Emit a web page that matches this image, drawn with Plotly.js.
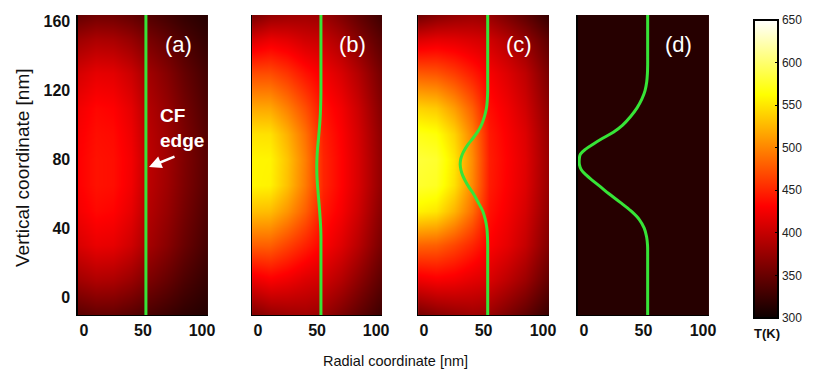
<!DOCTYPE html>
<html>
<head>
<meta charset="utf-8">
<script src="https://cdn.plot.ly/plotly-3.0.1.min.js"></script>
<style>html,body{margin:0;padding:0;background:#fff;}#chart{width:813px;height:373px;}</style>
</head>
<body>
<div id="chart"></div>
<script>
// Grid of sample positions (nm)
var gridX = [-5, 10, 25, 40, 55, 70, 85, 105];
var gridY = [-11, 10, 30, 50, 65, 80, 95, 110, 130, 150, 165];

// Temperature fields T(K), rows follow gridY, columns follow gridX
var tempA = [
  [340, 346, 346, 340, 332, 325, 318, 312],
  [380, 388, 386, 376, 360, 348, 335, 321],
  [410, 420, 418, 405, 382, 367, 350, 330],
  [425, 435, 432, 418, 390, 375, 357, 335],
  [430, 440, 438, 424, 394, 379, 361, 339],
  [430, 440, 438, 425, 395, 380, 362, 340],
  [428, 438, 436, 422, 393, 378, 360, 338],
  [424, 434, 431, 417, 389, 374, 356, 334],
  [408, 418, 416, 403, 380, 365, 348, 329],
  [378, 386, 384, 374, 358, 346, 334, 320],
  [345, 352, 351, 345, 336, 328, 320, 313]
];
var tempB = [
  [360, 372, 377, 380, 375, 360, 345, 325],
  [420, 428, 422, 412, 405, 390, 370, 342],
  [480, 480, 465, 448, 430, 414, 393, 357],
  [530, 528, 508, 480, 443, 427, 405, 365],
  [558, 556, 530, 494, 450, 432, 410, 370],
  [558, 557, 532, 496, 450, 432, 410, 370],
  [548, 547, 522, 489, 447, 430, 408, 368],
  [518, 517, 497, 471, 440, 425, 403, 363],
  [470, 470, 458, 440, 425, 410, 390, 355],
  [410, 420, 415, 405, 400, 385, 365, 340],
  [355, 370, 375, 378, 375, 360, 345, 325]
];
var tempC = [
  [355, 365, 372, 378, 375, 360, 345, 322],
  [422, 427, 424, 416, 410, 395, 378, 345],
  [482, 480, 467, 450, 430, 418, 400, 362],
  [556, 550, 524, 488, 440, 426, 409, 370],
  [578, 574, 547, 501, 445, 430, 414, 374],
  [582, 578, 550, 503, 446, 431, 415, 375],
  [570, 565, 540, 498, 444, 429, 413, 373],
  [540, 535, 512, 480, 438, 424, 406, 368],
  [477, 474, 462, 445, 427, 413, 396, 358],
  [412, 417, 415, 410, 405, 390, 372, 342],
  [350, 362, 370, 375, 372, 357, 342, 320]
];
var tempD = [
  [314, 314, 314, 314, 314, 314, 314, 314],
  [314, 314, 314, 314, 314, 314, 314, 314],
  [314, 314, 314, 314, 314, 314, 314, 314],
  [314, 314, 314, 314, 314, 314, 314, 314],
  [314, 314, 314, 314, 314, 314, 314, 314],
  [314, 314, 314, 314, 314, 314, 314, 314],
  [314, 314, 314, 314, 314, 314, 314, 314],
  [314, 314, 314, 314, 314, 314, 314, 314],
  [314, 314, 314, 314, 314, 314, 314, 314],
  [314, 314, 314, 314, 314, 314, 314, 314],
  [314, 314, 314, 314, 314, 314, 314, 314]
];

// CF edge profiles (radial position vs vertical coordinate)
var edgeY  = [-11, 0, 10, 20, 25, 30, 35, 40, 45, 50, 55, 60, 64, 68, 71, 74, 77, 80, 83, 86, 89, 92, 96, 100, 105, 110, 115, 120, 125, 130, 135, 140, 150, 160, 165];
var edgeXA = [52.5,52.5,52.5,52.5,52.5,52.5,52.5,52.5,52.5,52.5,52.5,52.5,52.5,52.5,52.5,52.5,52.5,52.5,52.5,52.5,52.5,52.5,52.5,52.5,52.5,52.5,52.5,52.5,52.5,52.5,52.5,52.5,52.5,52.5,52.5];
var edgeXB = [53.3,53.3,53.3,53.3,53.3,53.3,53.3,53.1,52.7,52.2,51.6,51.0,50.5,50.1,49.9,49.8,49.8,49.9,50.1,50.4,50.8,51.2,51.7,52.2,52.7,53.0,53.2,53.3,53.3,53.3,53.3,53.3,53.3,53.3,53.3];
var edgeXC = [53.5,53.5,53.5,53.5,53.5,53.5,53.3,52.8,51.5,49.3,45.5,41.5,37.6,34.3,32.3,31.0,30.4,30.8,32.2,34.5,37.3,40.8,45.0,48.2,50.8,52.5,53.2,53.5,53.5,53.5,53.5,53.5,53.5,53.5,53.5];
var edgeXD = [53.5,53.5,53.5,53.5,53.5,53.4,52.6,50.6,46.5,39.5,30.5,21.0,14.0,6.8,1.8,-2.2,-3.8,-3.9,-3.0,1.5,8.0,15.0,25.0,32.5,39.2,44.6,48.6,51.3,52.7,53.3,53.5,53.5,53.5,53.5,53.5];

var xTicks = [0, 50, 100];
var yTicks = [0, 40, 80, 120, 160];
var cbTicks = [300, 350, 400, 450, 500, 550, 600, 650];
var panelLabels = ['(a)', '(b)', '(c)', '(d)'];

var fields = [tempA, tempB, tempC, tempD];
var edges = [edgeXA, edgeXB, edgeXC, edgeXD];
var axSuffix = ['', '2', '3', '4'];
var domainsX = [[0.0959, 0.2558], [0.3100, 0.4699], [0.5142, 0.6753], [0.7109, 0.8721]];
var domainY = [0.1555, 0.9598];

var FONT = 'Liberation Sans, Arial, sans-serif';
var data = [];
for (var i = 0; i < 4; i++) {
  data.push({
    type: 'heatmap', x: gridX, y: gridY, z: fields[i],
    coloraxis: 'coloraxis', zsmooth: 'best',
    xaxis: 'x' + axSuffix[i], yaxis: 'y' + axSuffix[i], hoverinfo: 'skip'
  });
  data.push({
    type: 'scatter', mode: 'lines', x: edges[i], y: edgeY,
    line: {color: 'rgb(55,228,55)', width: 3, shape: 'spline', smoothing: 1},
    xaxis: 'x' + axSuffix[i], yaxis: 'y' + axSuffix[i], showlegend: false, hoverinfo: 'skip'
  });
}

var layout = {
  width: 813, height: 373,
  margin: {l: 0, r: 0, t: 0, b: 0},
  paper_bgcolor: '#fff', plot_bgcolor: '#fff',
  showlegend: false,
  font: {family: FONT, color: '#000'},
  coloraxis: {
    cmin: 300, cmax: 650,
    colorscale: [[0, 'rgb(12,0,0)'], [0.375, 'rgb(255,0,0)'], [0.75, 'rgb(255,255,0)'], [1, 'rgb(255,255,255)']],
    colorbar: {
      x: 754 / 813, xanchor: 'left', xpad: 0, ypad: 0,
      y: 1 - 169 / 373, yanchor: 'middle',
      len: 298 / 373, lenmode: 'fraction',
      thickness: 24, thicknessmode: 'pixels',
      outlinecolor: '#000', outlinewidth: 2,
      tickvals: cbTicks, ticks: 'inside', ticklen: 4, tickcolor: '#000', tickwidth: 1,
      tickfont: {family: FONT, size: 12, color: '#222'}
    }
  },
  annotations: []
};

for (var j = 0; j < 4; j++) {
  var xa = 'xaxis' + axSuffix[j], ya = 'yaxis' + axSuffix[j];
  layout[xa] = {
    domain: domainsX[j], anchor: 'y' + axSuffix[j], range: [-5, 105],
    tickvals: xTicks, ticks: '',
    showline: true, linecolor: '#000', linewidth: 1.5, mirror: false,
    showgrid: false, zeroline: false,
    tickfont: {family: FONT, size: 16, weight: 'bold', color: '#111'}
  };
  layout[ya] = {
    domain: domainY, anchor: 'x' + axSuffix[j], range: [-10.5, 164],
    tickvals: yTicks, ticks: 'outside', ticklen: 3, tickcolor: 'rgba(0,0,0,0)',
    showticklabels: j === 0,
    showline: true, linecolor: '#000', linewidth: 1.5,
    showgrid: false, zeroline: false,
    tickfont: {family: FONT, size: 16, weight: 'bold', color: '#111'}
  };
  layout.annotations.push({
    xref: 'x' + axSuffix[j] + ' domain', yref: 'y' + axSuffix[j] + ' domain',
    x: 0.77, y: 0.903, xanchor: 'center', yanchor: 'middle', showarrow: false,
    text: panelLabels[j], font: {family: FONT, size: 22, color: '#fff'}
  });
}

layout.annotations.push({
  xref: 'paper', yref: 'paper', x: 158 / 813, y: 1 - 128 / 373,
  xanchor: 'left', yanchor: 'middle', align: 'left', showarrow: false,
  text: 'CF<br>edge', font: {family: FONT, size: 19, weight: 'bold', color: '#fff'}
});
layout.annotations.push({
  xref: 'paper', yref: 'paper', x: 149 / 813, y: 1 - 167 / 373,
  ax: 27, ay: -11, axref: 'pixel', ayref: 'pixel',
  text: '', showarrow: true, arrowcolor: '#fff', arrowwidth: 2.5, arrowhead: 2, arrowsize: 1
});
layout.annotations.push({
  xref: 'paper', yref: 'paper', x: 22 / 813, y: 1 - 168 / 373,
  xanchor: 'center', yanchor: 'middle', textangle: -90, showarrow: false,
  text: 'Vertical coordinate [nm]', font: {family: FONT, size: 19, color: '#111'}
});
layout.annotations.push({
  xref: 'paper', yref: 'paper', x: 395 / 813, y: 1 - 361 / 373,
  xanchor: 'center', yanchor: 'middle', showarrow: false,
  text: 'Radial coordinate [nm]', font: {family: FONT, size: 14.5, color: '#111'}
});
layout.annotations.push({
  xref: 'paper', yref: 'paper', x: 767 / 813, y: 1 - 333 / 373,
  xanchor: 'center', yanchor: 'middle', showarrow: false,
  text: 'T(K)', font: {family: FONT, size: 13, weight: 'bold', color: '#111'}
});

Plotly.newPlot('chart', data, layout, {staticPlot: true, displayModeBar: false});
</script>
</body>
</html>
